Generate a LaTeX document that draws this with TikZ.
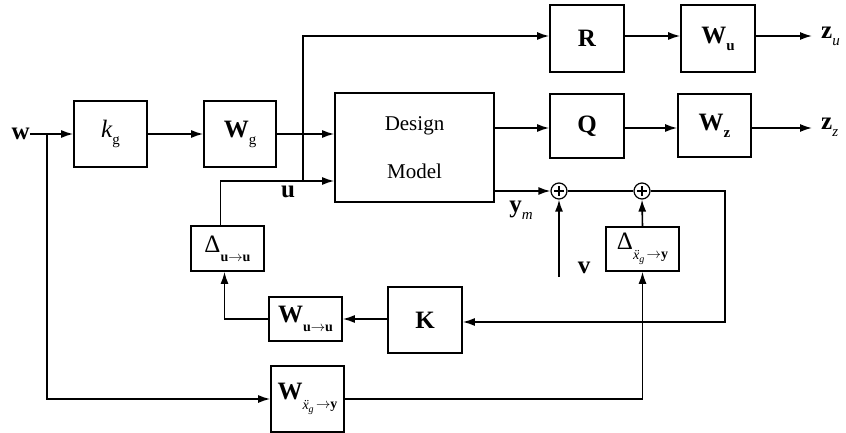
\documentclass[tikz,border=0pt]{standalone}
\usepackage{fontspec}
\setmainfont{Liberation Serif}
\usetikzlibrary{arrows.meta,calc}
\newcommand\lsub[1]{\raisebox{-0.28em}{\fontsize{15}{16}\selectfont #1}}
\newcommand\ssub[1]{\raisebox{-0.35em}{\fontsize{14}{15}\selectfont #1}}
\newcommand\xg{\raisebox{-1pt}{\textit{ẍ}\raisebox{-3pt}{\fontsize{10}{11}\selectfont\textit{g}}}}
\begin{document}
\begin{tikzpicture}[x=1pt,y=-1pt,
  blk/.style={draw,line width=1.6pt,inner sep=0pt,font=\fontsize{25}{28}\selectfont},
  sumc/.style={draw,circle,line width=1.2pt,minimum size=16pt,inner sep=0pt},
  arr/.style={line width=1.6pt,-{Latex[length=12pt,width=8pt]}},
  thin/.style={line width=1.1pt},
  lbl/.style={font=\fontsize{25}{28}\selectfont,inner sep=0pt}]
\useasboundingbox (0,0) rectangle (846,433);
% blocks
\node[blk,minimum width=73pt,minimum height=66pt] (kg) at (110.5,134) {\textit{k}\lsub{g}};
\node[blk,minimum width=72pt,minimum height=66pt] (Wg) at (240,134) {\textbf{W}\lsub{g}};
\node[blk,minimum width=159pt,minimum height=109pt,align=center,font=\fontsize{21}{48}\selectfont] (DM) at (414.5,147.5) {Design\\Model};
\node[blk,minimum width=74pt,minimum height=67pt] (R) at (587,38.5) {\textbf{R}};
\node[blk,minimum width=74pt,minimum height=67pt] (Wu) at (718,38.5) {\textbf{W}\lsub{\textbf{u}}};
\node[blk,minimum width=74pt,minimum height=64pt] (Q) at (587,126) {\textbf{Q}};
\node[blk,minimum width=73pt,minimum height=63pt] (Wz) at (714.5,125.5) {\textbf{W}\lsub{\textbf{z}}};
\node[sumc] (s1) at (559,191) {};
\node[sumc] (s2) at (642,191) {};
\draw[thin] (s1.center) ++(-5,0) -- ++(10,0) (s1.center) ++(0,-5) -- ++(0,10);
\draw[thin] (s2.center) ++(-5,0) -- ++(10,0) (s2.center) ++(0,-5) -- ++(0,10);
\node[blk,minimum width=73pt,minimum height=44pt] (Dxy) at (642.5,249) {Δ\ssub{\xg\,$\to$\textbf{y}}};
\node[blk,minimum width=74pt,minimum height=66pt] (K) at (425,320) {\textbf{K}};
\node[blk,minimum width=73pt,minimum height=44pt] (Wuu) at (305.5,319) {\textbf{W}\ssub{\textbf{u}$\to$\textbf{u}}};
\node[blk,minimum width=73pt,minimum height=45pt] (Duu) at (227.5,248.5) {Δ\ssub{\textbf{u}$\to$\textbf{u}}};
\node[blk,minimum width=73pt,minimum height=66pt] (Wxy) at (307.5,399) {\textbf{W}\ssub{\xg\,$\to$\textbf{y}}};
% labels
\node[lbl,anchor=east] (w) at (30,134) {\textbf{w}};
\node[lbl,anchor=west] (zu) at (821,36) {\textbf{z}\lsub{\textit{u}}};
\node[lbl,anchor=west] (zz) at (821,127) {\textbf{z}\lsub{\textit{z}}};
\node[lbl] (ym) at (521,210) {\textbf{y}\lsub{\textit{m}}};
\node[lbl] (v) at (584,268) {\textbf{v}};
\node[lbl] (u) at (288,192) {\textbf{u}};
\coordinate (br) at (47,134);
\coordinate (uj) at (303,181);
\coordinate (vs) at (559,277);
\coordinate (zue) at (812,36);
\coordinate (zze) at (812,128);
% connectors
\draw[arr] (w.east) -- (kg.west);
\draw[arr] (kg) -- (Wg);
\draw[arr] (Wg.east) -- (DM.west |- Wg.east);
\draw[arr] ([xshift=-7pt]Duu.north) |- (DM.west |- uj);
\draw[arr] (uj) |- (R.west |- zue);
\draw[arr] (R.east |- zue) -- (Wu.west |- zue);
\draw[arr] (Wu.east |- zue) -- (zue);
\draw[arr] (DM.east |- zze) -- (Q.west |- zze);
\draw[arr] (Q.east |- zze) -- (Wz.west |- zze);
\draw[arr] (Wz.east |- zze) -- (zze);
\draw[arr] (DM.east |- s1.west) -- (s1.west);
\draw[thin] (s1.east) -- (s2.west);
\draw[arr] (vs) -- (s1.south);
\draw[arr] (Dxy.north) -- (s2.south);
\draw[arr] (s2.east) -- (725,191) |- (K.east |- 0,322);
\draw[arr] (K.west |- Wuu.east) -- (Wuu.east);
\draw[arr] (Wuu.west) -| ([xshift=-3pt]Duu.south);
\draw[arr] (br) |- (Wxy.west);
\draw[arr] (Wxy.east) -| (Dxy.south);
\end{tikzpicture}
\end{document}
